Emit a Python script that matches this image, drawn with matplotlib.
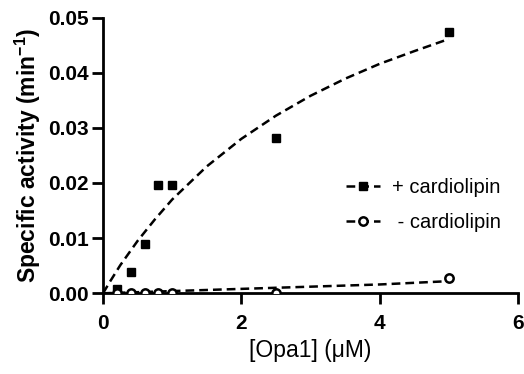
import matplotlib
matplotlib.use("Agg")
import matplotlib.pyplot as plt

plt.rcParams['font.family'] = ['Liberation Sans', 'DejaVu Sans']
plt.rcParams['mathtext.fontset'] = 'custom'
plt.rcParams['mathtext.rm'] = 'Liberation Sans'
plt.rcParams['mathtext.bf'] = 'Liberation Sans:bold'

# measured activity, [Opa1] in uM
opa1 = [0.2, 0.4, 0.6, 0.8, 1.0, 2.5, 5.0]
act_plus_cl = [0.0007, 0.0039, 0.0089, 0.0196, 0.0197, 0.0281, 0.0473]
act_minus_cl = [0.0, 0.0, 0.0, 0.0, 0.0001, 0.0, 0.0028]

# fitted curves
fit_x = [0, 0.1, 0.25, 0.5, 0.75, 1.0, 1.5, 2.0, 2.5, 3.0, 3.5, 4.0, 4.5, 5.0]
fit_plus_cl = [0, 0.0021, 0.0051, 0.0095, 0.0134, 0.0170, 0.0230, 0.0280,
               0.0322, 0.0358, 0.0389, 0.0416, 0.0439, 0.0461]
fit_minus_cl = [0, 0.00004, 0.0001, 0.0002, 0.0003, 0.0004, 0.0006, 0.0008,
                0.0010, 0.0012, 0.0014, 0.0016, 0.0019, 0.0022]

fig = plt.figure(figsize=(5.24, 3.74), dpi=100)
ax = fig.add_axes([0.1966, 0.2158, 0.7919, 0.7374])

dash = (3.5, 2.0)
ax.plot(fit_x, fit_plus_cl, color='black', lw=1.8, dashes=dash, zorder=2)
ax.plot(fit_x, fit_minus_cl, color='black', lw=1.8, dashes=dash, zorder=2)
ax.plot(opa1, act_plus_cl, 's', color='black', ms=6, zorder=3)
ax.plot(opa1, act_minus_cl, 'o', mfc='white', mec='black', mew=1.8, ms=6,
        zorder=3)

# legend handles: dashed line + marker
h1, = ax.plot([], [], color='black', lw=1.8, dashes=dash, marker='s', ms=6)
h2, = ax.plot([], [], color='black', lw=1.8, dashes=dash, marker='o',
              mfc='white', mec='black', mew=1.8, ms=6)
ax.legend([h1, h2], ['+ cardiolipin', ' - cardiolipin'], frameon=False,
          fontsize=14.5, handlelength=1.7, handletextpad=0.6, labelspacing=0.75,
          borderpad=0, borderaxespad=0,
          loc='center left', bbox_to_anchor=(0.585, 0.32))

ax.set_xlim(0, 6)
ax.set_ylim(0, 0.05)
ax.set_xticks([0, 2, 4, 6])
ax.set_yticks([0, 0.01, 0.02, 0.03, 0.04, 0.05])
ax.set_yticklabels(['0.00', '0.01', '0.02', '0.03', '0.04', '0.05'])

for s in ['top', 'right']:
    ax.spines[s].set_visible(False)
for s in ['left', 'bottom']:
    ax.spines[s].set_linewidth(2.0)
ax.tick_params(direction='out', length=8, width=2.0, pad=2, labelsize=15)
ax.tick_params(axis='x', pad=7)
for lbl in ax.get_xticklabels() + ax.get_yticklabels():
    lbl.set_fontweight('bold')

ax.set_xlabel('[Opa1] (\u03bcM)', fontsize=16.5, labelpad=4)
ax.set_ylabel(r'Specific activity (min$^{\mathbf{-1}}$)', fontsize=16.5,
              fontweight='bold', labelpad=4)

fig.savefig('out.png', dpi=100)
